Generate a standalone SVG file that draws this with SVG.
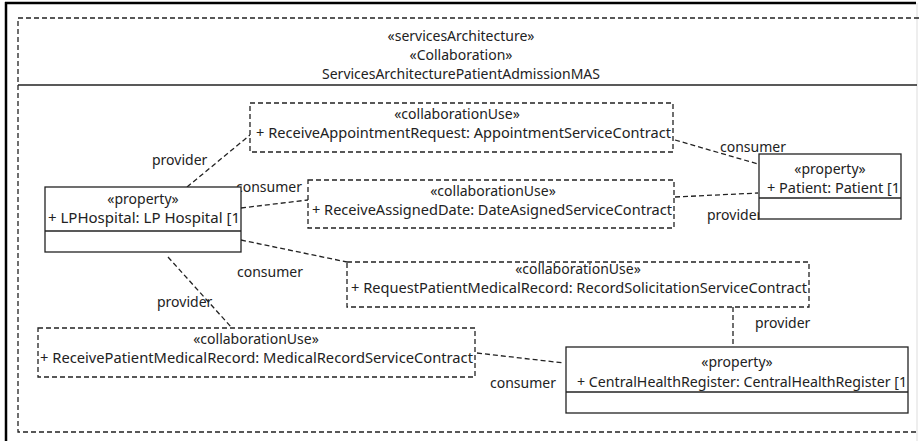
<svg xmlns="http://www.w3.org/2000/svg" width="919" height="441" viewBox="0 0 919 441">
<style>
text{font-family:"Noto Sans","Open Sans","Liberation Sans",sans-serif;font-size:14px;fill:#222}
.c{text-anchor:middle}
.box{fill:#fff;stroke:#222;stroke-width:1.3}
.cu{fill:#fff;stroke:#222;stroke-width:1.3;stroke-dasharray:5,3}
.con{fill:none;stroke:#222;stroke-width:1.3;stroke-dasharray:5,3}
</style>
<rect x="0" y="0" width="919" height="441" fill="#fff"/>
<line x1="6" y1="2" x2="6" y2="441" stroke="#000" stroke-width="2.5"/>
<line x1="5" y1="3" x2="916" y2="3" stroke="#000" stroke-width="2.5"/>
<line x1="917" y1="3" x2="917" y2="441" stroke="#ddd" stroke-width="1"/>
<g id="frame">
<rect x="18" y="18" width="910" height="414" fill="none" stroke="#222" stroke-width="1.3" stroke-dasharray="5,3"/>
<line x1="18" y1="85" x2="917" y2="85" stroke="#222" stroke-width="1.3"/>
<text class="c" x="461" y="41" font-size="13.5">«servicesArchitecture»</text>
<text class="c" x="461" y="60" font-size="13.5">«Collaboration»</text>
<text class="c" x="461" y="79" font-size="13.5">ServicesArchitecturePatientAdmissionMAS</text>
</g>
<g id="connectors">
<path class="con" d="M187,187 L250,135"/>
<path class="con" d="M675,140 L758,164"/>
<path class="con" d="M241,208 L308,200"/>
<path class="con" d="M675,197 L758,193"/>
<path class="con" d="M241,240 L347,262"/>
<path class="con" d="M168,257 L232,328"/>
<path class="con" d="M733,307 L733,347"/>
<path class="con" d="M477,353 L564,363"/>
<text x="152" y="165">provider</text>
<text x="720" y="152">consumer</text>
<text x="236" y="192">consumer</text>
<text x="707" y="220">provider</text>
<text x="237" y="277">consumer</text>
<text x="157" y="307">provider</text>
<text x="755" y="328">provider</text>
<text x="490" y="388">consumer</text>
</g>
<g id="LPHospital">
<rect class="box" x="45" y="187" width="196" height="65"/>
<line x1="45" y1="231" x2="241" y2="231" stroke="#222" stroke-width="1.3"/>
<text class="c" x="143" y="204">«property»</text>
<text x="48" y="223" textLength="192" lengthAdjust="spacingAndGlyphs">+ LPHospital: LP Hospital [1</text>
</g>
<g id="Patient">
<rect class="box" x="759" y="154" width="142" height="65"/>
<line x1="759" y1="198" x2="901" y2="198" stroke="#222" stroke-width="1.3"/>
<text class="c" x="830" y="174">«property»</text>
<text x="767" y="193" textLength="133" lengthAdjust="spacingAndGlyphs">+ Patient: Patient [1</text>
</g>
<g id="CentralHealthRegister">
<rect class="box" x="566" y="347" width="342" height="66"/>
<line x1="566" y1="392" x2="908" y2="392" stroke="#222" stroke-width="1.3"/>
<text class="c" x="737" y="367">«property»</text>
<text x="577" y="387" textLength="330" lengthAdjust="spacingAndGlyphs">+ CentralHealthRegister: CentralHealthRegister [1</text>
</g>
<g id="ReceiveAppointmentRequest">
<rect class="cu" x="250" y="103" width="423" height="49"/>
<text class="c" x="457" y="119">«collaborationUse»</text>
<text x="256" y="138" textLength="415" lengthAdjust="spacingAndGlyphs">+ ReceiveAppointmentRequest: AppointmentServiceContract</text>
</g>
<g id="ReceiveAssignedDate">
<rect class="cu" x="308" y="180" width="366" height="48"/>
<text class="c" x="493" y="196">«collaborationUse»</text>
<text x="312" y="215" textLength="360" lengthAdjust="spacingAndGlyphs">+ ReceiveAssignedDate: DateAsignedServiceContract</text>
</g>
<g id="RequestPatientMedicalRecord">
<rect class="cu" x="347" y="262" width="462" height="45"/>
<text class="c" x="578" y="274">«collaborationUse»</text>
<text x="351" y="293" textLength="456" lengthAdjust="spacingAndGlyphs">+ RequestPatientMedicalRecord: RecordSolicitationServiceContract</text>
</g>
<g id="ReceivePatientMedicalRecord">
<rect class="cu" x="38" y="328" width="437" height="49"/>
<text class="c" x="256" y="344">«collaborationUse»</text>
<text x="40" y="363" textLength="433" lengthAdjust="spacingAndGlyphs">+ ReceivePatientMedicalRecord: MedicalRecordServiceContract</text>
</g>
</svg>
